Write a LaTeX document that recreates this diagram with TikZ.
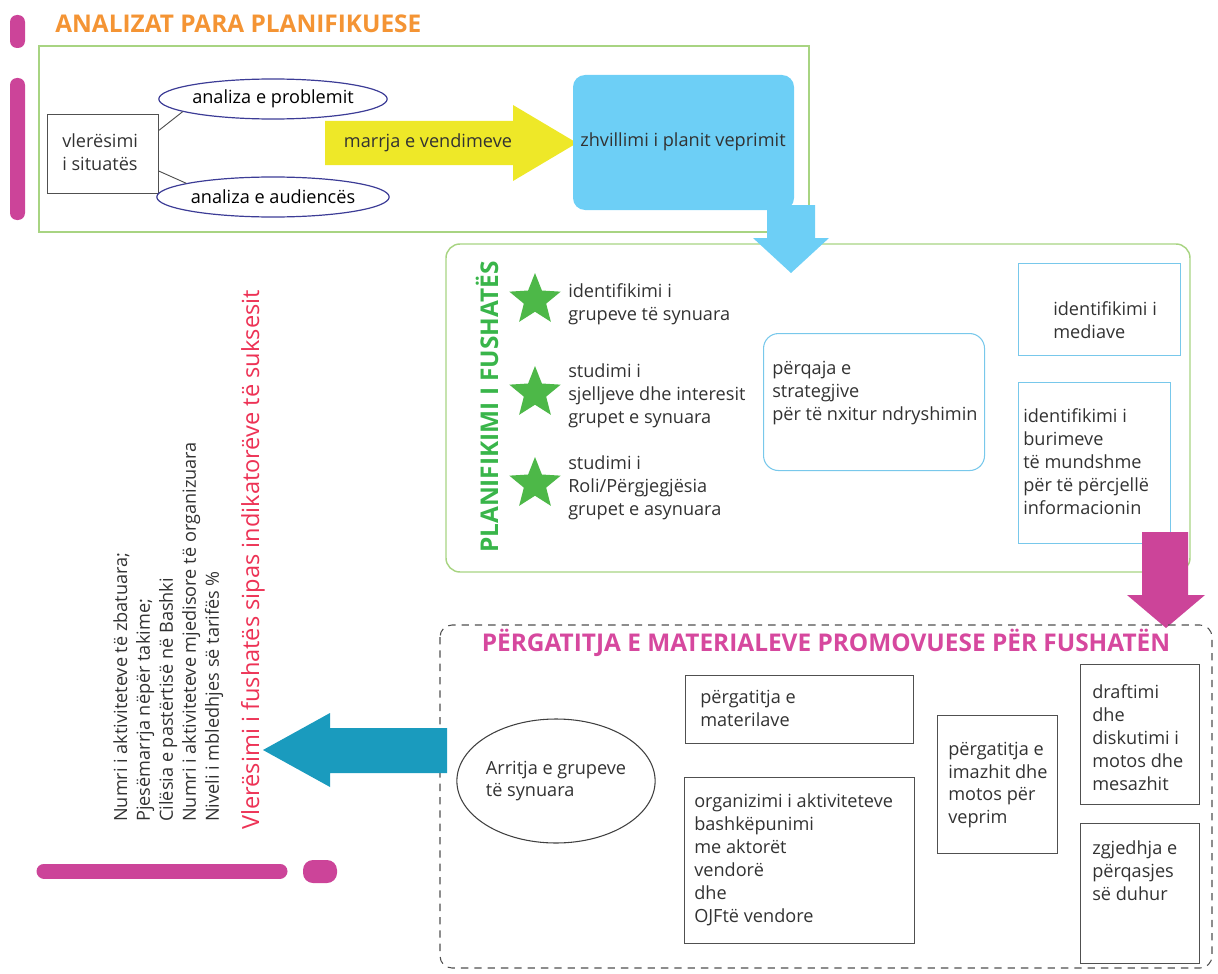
\documentclass[tikz,border=0pt]{standalone}
\usepackage{fontspec}
\setmainfont{Open Sans}
\usetikzlibrary{shapes.geometric}

\definecolor{orangeT}{RGB}{244,148,52}
\definecolor{magT}{RGB}{214,72,158}
\definecolor{pinkbar}{RGB}{204,68,153}
\definecolor{greenT}{RGB}{57,181,74}
\definecolor{greenS}{RGB}{77,184,72}
\definecolor{greenL}{RGB}{168,212,130}
\definecolor{skyB}{RGB}{109,207,246}
\definecolor{skyL}{RGB}{120,200,235}
\definecolor{navyE}{RGB}{60,60,150}
\definecolor{yellowA}{RGB}{238,232,40}
\definecolor{tealA}{RGB}{26,155,190}
\definecolor{redT}{RGB}{237,50,85}
\definecolor{textgray}{RGB}{50,50,50}
\definecolor{boxgray}{RGB}{80,80,80}

\newlength\pxu
\setlength\pxu{0.75pt}

\tikzset{
  txt/.style={font=\fontsize{13.6}{17.2}\selectfont, text=textgray, align=left, inner sep=0pt},
  head/.style={font=\fontsize{18.3}{22}\selectfont\bfseries, inner sep=0pt},
  blackbox/.style={draw=boxgray, line width=0.8pt, inner sep=0pt, anchor=north west},
  bluebox/.style={draw=skyL, line width=0.8pt, inner sep=0pt, anchor=north west},
  oval/.style={ellipse, draw=navyE, line width=0.9pt, inner sep=0pt},
  starmark/.style={star, star points=5, star point ratio=2.3, fill=greenS, minimum size=54\pxu, inner sep=0pt},
  pill/.style={fill=pinkbar, rounded corners=7\pxu},
}

\begin{document}
\begin{tikzpicture}[x=0.75pt, y=-0.75pt]
\useasboundingbox (0,0) rectangle (1218,974);

% side marks
\fill[pill] (10,15) rectangle (25,48);
\fill[pill] (10,78) rectangle (25,220);
\draw[pinkbar, line width=15\pxu, line cap=round] (44,871) -- (280,871);
\fill[pill, rounded corners=10\pxu] (303,860) rectangle (337,883);

% analizat para planifikuese
\node[head, text=orangeT, anchor=west] (analizat) at (55,24) {ANALIZAT PARA PLANIFIKUESE};
\draw[greenL, line width=1.1pt] (39,46) rectangle (809,232);

\node[blackbox, minimum width=111\pxu, minimum height=79\pxu] (situata) at (47,114) {};
\node[txt, anchor=west] (situataT) at (62,152) {vlerësimi\\ i situatës};
\node[oval, minimum width=203\pxu, minimum height=40\pxu] (problemi) at (273,99) {\fontsize{13.6}{17}\selectfont analiza e problemit};
\node[oval, minimum width=203\pxu, minimum height=40\pxu] (audienca) at (273,197) {\fontsize{13.6}{17}\selectfont analiza e audiencës};
\draw[boxgray, line width=0.7pt] (situata.23) -- (problemi.188.5);
\draw[boxgray, line width=0.7pt] (situata.-17.5) -- (audienca.171);

\fill[yellowA] (325,121) -- (513,121) -- (513,105) -- (577,143) -- (513,181) -- (513,165) -- (325,165) -- cycle;
\node[txt] (vendimet) at (428,143) {marrja e vendimeve};

\node[fill=skyB, rounded corners=12\pxu, minimum width=221\pxu, minimum height=135\pxu, inner sep=0pt] (plani) at (683.5,142.5) {};
\node[txt] (planiT) at (683,142) {zhvillimi i planit veprimit};

% planifikimi i fushates
\draw[greenL, line width=1.1pt, rounded corners=14\pxu] (446,244) rectangle (1190,572);
\fill[skyB] (767,205) -- (815,205) -- (815,238) -- (829,238) -- (791,273) -- (753,238) -- (767,238) -- cycle;
\node[head, text=greenT, rotate=90] (planifikimi) at (487,407) {PLANIFIKIMI I FUSHATËS};

\node[starmark] (star1) at (535,300) {};
\node[starmark] (star2) at (535,393) {};
\node[starmark] (star3) at (535,484) {};
\node[txt, anchor=west] (grupet1) at (568,304) {identifikimi i\\ grupeve të synuara};
\node[txt, anchor=west] (grupet2) at (568,396) {studimi i\\ sjelljeve dhe interesit\\ grupet e synuara};
\node[txt, anchor=west] (grupet3) at (568,488) {studimi i\\ Roli/Përgjegjësia\\ grupet e asynuara};

\node[bluebox, rounded corners=15\pxu, minimum width=221\pxu, minimum height=137\pxu] (strategjia) at (763,333) {};
\node[txt, anchor=west] (strategjiaT) at (772,393) {përqaja e\\ strategjive\\ për të nxitur ndryshimin};
\node[bluebox, minimum width=162\pxu, minimum height=92\pxu] (mediat) at (1018,263) {};
\node[txt, anchor=west] (mediatT) at (1053,320) {identifikimi i\\ mediave};
\node[bluebox, minimum width=152\pxu, minimum height=161\pxu] (burimet) at (1018,382) {};
\node[txt, anchor=west] (burimetT) at (1023,462) {identifikimi i\\ burimeve\\ të mundshme\\ për të përcjellë\\ informacionin};

\fill[pinkbar] (1142,532) -- (1188,532) -- (1188,595) -- (1205,595) -- (1166,628) -- (1127,595) -- (1142,595) -- cycle;

% pergatitja e materialeve
\draw[boxgray, line width=0.8pt, dash pattern=on 5.5pt off 4.5pt, rounded corners=12\pxu] (440,625) rectangle (1212,968);
\node[head, text=magT] (pergatitja) at (826,643) {PËRGATITJA E MATERIALEVE PROMOVUESE PËR FUSHATËN};

\node[ellipse, draw=black!75, line width=0.8pt, minimum width=189\pxu, minimum height=124\pxu, txt] (arritja) at (556,781) {Arritja e grupeve\\ të synuara};
\node[blackbox, minimum width=228\pxu, minimum height=68\pxu] (materialet) at (685,675) {};
\node[txt, anchor=west] (materialetT) at (700,708) {përgatitja e\\ materilave};
\node[blackbox, minimum width=230\pxu, minimum height=166\pxu] (aktivitetet) at (684,777) {};
\node[txt, anchor=west] (aktivitetetT) at (694,860) {organizimi i aktiviteteve\\ bashkëpunimi\\ me aktorët\\ vendorë\\ dhe\\ OJFtë vendore};
\node[blackbox, minimum width=120\pxu, minimum height=138\pxu] (imazhi) at (937,715) {};
\node[txt, anchor=west] (imazhiT) at (948,785) {përgatitja e\\ imazhit dhe\\ motos për\\ veprim};
\node[blackbox, minimum width=119\pxu, minimum height=140\pxu] (drafti) at (1080,664) {};
\node[txt, anchor=west] (draftiT) at (1092,738) {draftimi\\ dhe\\ diskutimi i\\ motos dhe\\ mesazhit};
\node[blackbox, minimum width=119\pxu, minimum height=140\pxu] (qasja) at (1080,823) {};
\node[txt, anchor=west] (qasjaT) at (1092,871) {zgjedhja e\\ përqasjes\\ së duhur};

\fill[tealA] (447,728) -- (330,728) -- (330,713) -- (263,750) -- (330,787) -- (330,773) -- (447,773) -- cycle;

% vleresimi
\node[txt, rotate=90, anchor=north west] (indikatoret) at (113,822) {Numri i aktiviteteve të zbatuara;\\ Pjesëmarrja nëpër takime;\\ Cilësia e pastërtisë në Bashki\\ Numri i aktiviteteve mjedisore të organizuara\\ Niveli i mbledhjes së tarifës \%};
\node[rotate=90, anchor=west, inner sep=0pt, text=redT, font=\fontsize{17.7}{21}\selectfont] (vleresimi) at (253,830) {Vlerësimi i fushatës sipas indikatorëve të suksesit};

\end{tikzpicture}
\end{document}
